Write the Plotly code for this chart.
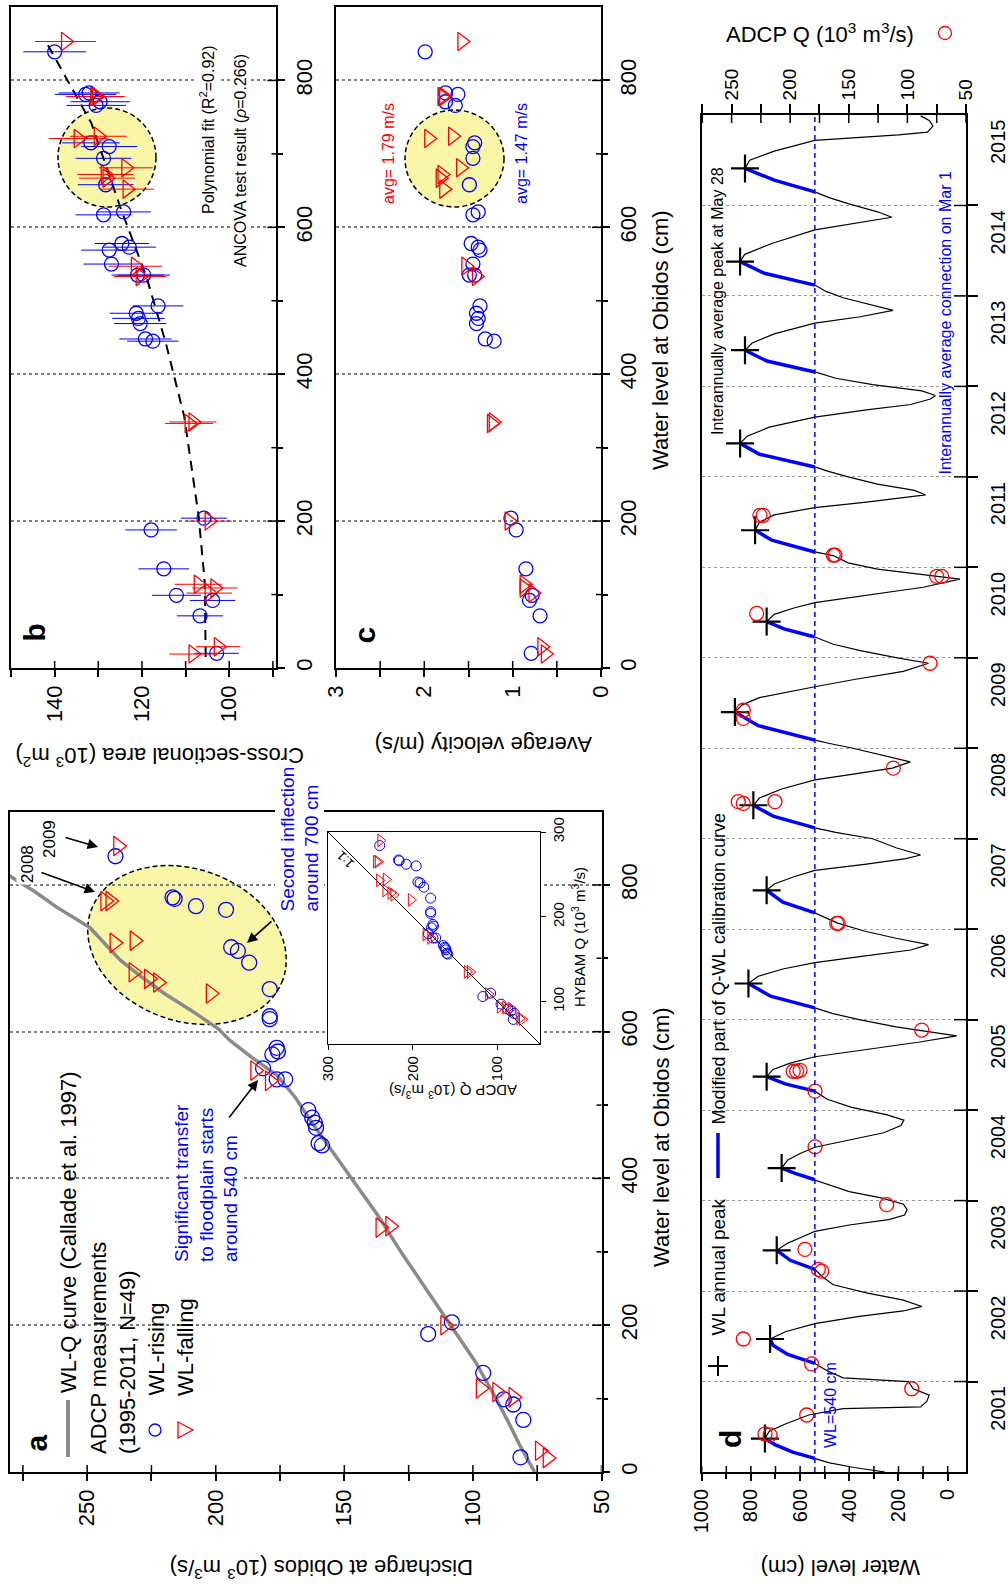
import math
import plotly.graph_objects as go

W, H = 1008, 1589
def fx(p): return p / W
def fy(p): return 1 - p / H

FONT = "Liberation Sans, Arial, Helvetica, sans-serif"
BLUE = "#0000ff"
RED = "#ff0000"

# ---------------- ADCP measurements (panels a, b, c and inset) ----------------
rise_wl = [839, 783, 781, 771, 766, 715, 710, 694, 658, 621, 617, 578, 573, 569, 550,
           535, 535, 493, 483, 476, 469, 448, 445, 204, 188, 135, 99, 92, 71, 20]
rise_q = [239.0, 216.8, 216.0, 207.7, 196.0, 194.0, 191.4, 187.0, 179.0, 179.0, 179.0, 176.3,
          175.8, 178.0, 181.6, 176.3, 173.0, 164.0, 162.5, 161.5, 161.0, 160.0, 158.7, 108.2,
          117.4, 96.0, 88.0, 84.3, 80.4, 81.5]
rise_area = [140.0, 132.1, 132.9, 129.6, 130.5, 131.7, 127.5, 128.8, 128.3, 124.2, 128.8, 124.6,
             122.9, 127.5, 127.0, 119.6, 121.0, 116.3, 121.3, 120.8, 120.4, 119.2, 117.5, 105.8,
             117.9, 115.0, 112.1, 103.8, 106.7, 102.9]
rise_area_err = [7.2, 7.0, 7.0, 6.8, 6.8, 6.6, 6.4, 6.4, 6.4, 6.2, 6.4, 6.2, 6.1, 6.4, 6.4,
                 6.0, 6.0, 5.8, 6.1, 6.0, 6.0, 6.0, 5.9, 5.3, 5.9, 5.8, 5.6, 5.2, 5.3, 5.1]
rise_vel = [1.99, 1.76, 1.62, 1.76, 1.65, 1.43, 1.45, 1.45, 1.49, 1.39, 1.45, 1.47, 1.39, 1.37,
            1.45, 1.49, 1.43, 1.37, 1.41, 1.39, 1.41, 1.31, 1.21, 1.02, 0.96, 0.85, 0.78, 0.81,
            0.69, 0.79]
rise_hybam = [284, 267, 266, 262, 260, 241, 240, 235, 222, 206, 204, 191, 189, 187, 180,
              175, 175, 166, 164, 163, 161, 157, 156, 110, 106, 97, 91, 89, 86, 79]

fall_wl = [853, 778, 778, 721, 724, 681, 672, 667, 652, 547, 533, 333, 335, 200, 114, 109, 102, 29, 19]
fall_q = [238.0, 243.0, 241.0, 239.4, 231.6, 232.0, 226.0, 222.5, 202.0, 184.7, 179.0, 136.0,
          132.2, 110.8, 97.0, 90.6, 84.3, 74.0, 71.0]
fall_area = [137.5, 130.8, 130.4, 134.6, 130.0, 123.7, 128.4, 128.0, 123.4, 121.5, 120.4, 109.2,
             108.3, 104.6, 107.1, 103.3, 104.6, 102.5, 108.3]
fall_area_err = [7.0, 6.6, 6.5, 6.7, 6.5, 6.2, 6.4, 6.4, 6.2, 6.1, 6.0, 5.5, 5.4, 5.2, 5.4,
                 5.2, 5.2, 5.1, 5.4]
fall_vel = [1.575, 1.80, 1.78, 1.95, 1.68, 1.59, 1.80, 1.82, 1.78, 1.53, 1.41, 1.24, 1.22, 1.04,
            0.87, 0.87, 0.77, 0.67, 0.63]
fall_hybam = [290, 265, 265, 243, 244, 231, 228, 226, 220, 179, 175, 135, 135, 109, 94, 93, 92, 80, 79]

# WL-Q curve (Callade et al. 1997)
curve_wl = [0, 38, 70, 100, 150, 207, 260, 300, 350, 397, 440, 478, 510, 540, 565, 588, 604,
            630, 652, 675, 697, 720, 742, 770, 790, 812, 840]
curve_q = [76, 82, 86.5, 91, 99, 110, 120, 128, 137, 146.6, 155, 163, 169, 176, 186, 194.5, 199,
           210, 220, 229, 237, 243, 249, 262, 270, 280, 292]

# polynomial fit of cross-sectional area
fit_wl = [15, 116, 206, 342, 444, 533, 628, 742, 855]
fit_area = [105.4, 105.6, 107.0, 110.3, 114.6, 119.0, 125.0, 131.6, 142.2]

one_to_one = [50, 300]

# ---------------- Panel d: water level time series ----------------
wl_year = [2001.00, 2001.05, 2001.10, 2001.15, 2001.22, 2001.30, 2001.37, 2001.45, 2001.53, 2001.63,
           2001.70, 2001.72, 2001.78, 2001.85, 2001.92, 2002.00, 2002.04, 2002.12, 2002.20, 2002.30,
           2002.40, 2002.47, 2002.55, 2002.64, 2002.72, 2002.78, 2002.83, 2002.90, 2002.98, 2003.07,
           2003.16, 2003.24, 2003.34, 2003.45, 2003.53, 2003.60, 2003.66, 2003.73, 2003.79, 2003.84,
           2003.90, 2003.96, 2004.03, 2004.10, 2004.17, 2004.23, 2004.30, 2004.36, 2004.45, 2004.52,
           2004.59, 2004.67, 2004.75, 2004.83, 2004.89, 2004.95, 2005.03, 2005.12, 2005.21, 2005.29,
           2005.37, 2005.45, 2005.52, 2005.59, 2005.67, 2005.75, 2005.82, 2005.86, 2005.92, 2006.00,
           2006.07, 2006.13, 2006.26, 2006.40, 2006.48, 2006.56, 2006.63, 2006.70, 2006.77, 2006.83,
           2006.90, 2006.98, 2007.07, 2007.18, 2007.30, 2007.43, 2007.50, 2007.58, 2007.65, 2007.72,
           2007.78, 2007.82, 2007.90, 2008.00, 2008.07, 2008.12, 2008.25, 2008.37, 2008.45, 2008.55,
           2008.65, 2008.72, 2008.78, 2008.85, 2008.92, 2009.00, 2009.05, 2009.09, 2009.25, 2009.40,
           2009.48, 2009.56, 2009.68, 2009.76, 2009.85, 2009.94, 2010.00, 2010.08, 2010.15, 2010.23,
           2010.32, 2010.40, 2010.48, 2010.55, 2010.61, 2010.70, 2010.78, 2010.87, 2010.92, 2010.98,
           2011.05, 2011.13, 2011.17, 2011.30, 2011.41, 2011.50, 2011.58, 2011.66, 2011.72, 2011.76,
           2011.80, 2011.85, 2011.92, 2012.00, 2012.06, 2012.11, 2012.25, 2012.37, 2012.45, 2012.55,
           2012.66, 2012.74, 2012.80, 2012.86, 2012.90, 2012.95, 2013.02, 2013.09, 2013.16, 2013.28,
           2013.40, 2013.48, 2013.58, 2013.70, 2013.77, 2013.84, 2013.90, 2013.98, 2014.05, 2014.12,
           2014.25, 2014.38, 2014.46, 2014.58, 2014.73, 2014.80, 2014.87, 2014.93, 2015.02, 2015.09,
           2015.15, 2015.28, 2015.41, 2015.50, 2015.60, 2015.72, 2015.78, 2015.81, 2015.88, 2015.94,
           2015.99]
wl_cm = [255, 380, 480, 540, 630, 700, 743, 725, 660, 565,
         425, 110, 85, 75, 140, 160, 425, 490, 540, 650,
         710, 722, 660, 540, 360, 180, 105, 180, 330, 465,
         510, 540, 640, 695, 650, 590, 540, 400, 240, 175,
         165, 180, 270, 400, 480, 540, 620, 675, 650, 600,
         540, 400, 260, 190, 178, 250, 390, 490, 540, 660,
         736, 710, 640, 540, 330, 120, -37, 60, 210, 360,
         470, 540, 720, 810, 770, 670, 540, 350, 150, 78,
         210, 340, 450, 540, 670, 736, 705, 625, 540, 330,
         170, 110, 210, 305, 455, 540, 710, 790, 765, 675,
         540, 370, 225, 152, 255, 385, 475, 540, 770, 865,
         835, 765, 540, 380, 180, 78, 205, 355, 465, 540,
         665, 736, 705, 625, 540, 300, 100, -50, 100, 285,
         405, 465, 540, 715, 783, 765, 705, 540, 330, 200,
         90, 135, 285, 405, 485, 540, 765, 844, 815, 725,
         540, 330, 150, 70, 50, 105, 305, 455, 540, 735,
         824, 795, 705, 540, 355, 222, 305, 425, 495, 540,
         745, 844, 825, 715, 540, 385, 227, 285, 405, 485,
         540, 705, 824, 805, 705, 540, 200, 82, 60, 75,
         110]

peak_year = [2001.37, 2002.47, 2003.45, 2004.36, 2005.37, 2006.40, 2007.43, 2008.37,
             2009.40, 2010.40, 2011.41, 2012.37, 2013.40, 2014.38, 2015.41]
peak_wl = [743, 722, 695, 675, 736, 810, 736, 790, 865, 736, 783, 844, 824, 844, 824]

adcp_year = [2001.42, 2001.41, 2001.63, 2001.92, 2002.47, 2002.195, 2003.46, 2003.24, 2003.22,
             2003.955, 2004.594, 2005.43, 2005.43, 2005.44, 2005.21, 2005.885, 2007.065, 2007.065,
             2008.41, 2008.39, 2008.41, 2008.78, 2009.42, 2009.33, 2009.94, 2010.49, 2010.90,
             2010.90, 2011.135, 2011.135, 2011.575, 2011.575]
adcp_q = [221.5, 217.2, 185.9, 96.3, 240.0, 181.7, 187.4, 176.0, 173.1,
          117.7, 178.8, 197.4, 194.5, 191.6, 178.8, 87.8, 160.3, 159.0,
          244.3, 240.0, 213.0, 112.0, 240.0, 240.0, 80.7, 228.6, 75.0,
          70.7, 163.2, 161.8, 225.8, 223.0]

connection_wl = 540
years = list(range(2001, 2016))

# tick positions
q_major = [50, 100, 150, 200, 250]
q_minor = [75, 125, 175, 225, 275]
wl_major = [0, 200, 400, 600, 800]
wl_minor = [100, 300, 500, 700]
area_major = [100, 120, 140]
area_minor = [90, 110, 130, 150]
vel_major = [0, 1, 2, 3]
vel_minor = [0.5, 1.5, 2.5]
dwl_major = [0, 200, 400, 600, 800, 1000]
dwl_minor = [100, 300, 500, 700, 900]

# ---------------- figure ----------------
fig = go.Figure()

def mk(symbol, color, size, width=1.3):
    return dict(symbol=symbol, size=size, color=color, line=dict(color=color, width=width))

# panel a
fig.add_trace(go.Scatter(x=curve_q, y=curve_wl, mode="lines", line=dict(color="#8a8a8a", width=3.5),
                         xaxis="x", yaxis="y"))
fig.add_trace(go.Scatter(x=rise_q, y=rise_wl, mode="markers", marker=mk("circle-open", BLUE, 15),
                         xaxis="x", yaxis="y"))
fig.add_trace(go.Scatter(x=fall_q, y=fall_wl, mode="markers", marker=mk("triangle-right-open", RED, 17),
                         xaxis="x", yaxis="y"))

# panel b
fig.add_trace(go.Scatter(x=fit_area, y=fit_wl, mode="lines",
                         line=dict(color="black", width=2, dash="10px,7px"), xaxis="x2", yaxis="y2"))
fig.add_trace(go.Scatter(x=rise_area, y=rise_wl, mode="markers", marker=mk("circle-open", BLUE, 14),
                         error_x=dict(type="data", array=rise_area_err, color=BLUE, thickness=1, width=0),
                         xaxis="x2", yaxis="y2"))
fig.add_trace(go.Scatter(x=fall_area, y=fall_wl, mode="markers", marker=mk("triangle-right-open", RED, 16),
                         error_x=dict(type="data", array=fall_area_err, color=RED, thickness=1, width=0),
                         xaxis="x2", yaxis="y2"))

# panel c
fig.add_trace(go.Scatter(x=rise_vel, y=rise_wl, mode="markers", marker=mk("circle-open", BLUE, 14),
                         xaxis="x3", yaxis="y3"))
fig.add_trace(go.Scatter(x=fall_vel, y=fall_wl, mode="markers", marker=mk("triangle-right-open", RED, 16),
                         xaxis="x3", yaxis="y3"))

# inset
fig.add_trace(go.Scatter(x=one_to_one, y=one_to_one, mode="lines", line=dict(color="black", width=1),
                         xaxis="x4", yaxis="y4"))
fig.add_trace(go.Scatter(x=rise_q, y=rise_hybam, mode="markers", marker=mk("circle-open", BLUE, 10, 1),
                         xaxis="x4", yaxis="y4"))
fig.add_trace(go.Scatter(x=fall_q, y=fall_hybam, mode="markers", marker=mk("triangle-right-open", RED, 11, 1),
                         xaxis="x4", yaxis="y4"))

# panel d
fig.add_trace(go.Scatter(x=wl_cm, y=wl_year, mode="lines", line=dict(color="black", width=1.2),
                         xaxis="x5", yaxis="y5"))
seg_x, seg_y = [], []
for p in peak_year:
    i = wl_year.index(p)
    j = i
    while j > 0 and wl_cm[j] > connection_wl:
        j -= 1
    seg_x += wl_cm[j:i + 1] + [None]
    seg_y += wl_year[j:i + 1] + [None]
fig.add_trace(go.Scatter(x=seg_x, y=seg_y, mode="lines", line=dict(color=BLUE, width=3.5),
                         connectgaps=False, xaxis="x5", yaxis="y5"))
fig.add_trace(go.Scatter(x=peak_wl, y=peak_year, mode="markers",
                         marker=dict(symbol="cross-thin-open", size=20, color="black",
                                     line=dict(color="black", width=2.2)),
                         xaxis="x5", yaxis="y5"))
fig.add_trace(go.Scatter(x=adcp_q, y=adcp_year, mode="markers", marker=mk("circle-open", RED, 14),
                         xaxis="x6", yaxis="y5"))

# ---------------- axes ----------------
def ax(**kw):
    d = dict(showline=True, linecolor="black", linewidth=1.5, mirror=True, ticks="outside",
             ticklen=7, tickwidth=1.5, tickcolor="black", showgrid=False, zeroline=False,
             tickangle=-90, tickfont=dict(size=22, family=FONT, color="black"), fixedrange=True,
             automargin=False)
    d.update(kw)
    return d

def minor(vals, length=5, **kw):
    d = dict(tickvals=vals, ticks="outside", ticklen=length, tickwidth=1.5, tickcolor="black",
             showgrid=False)
    d.update(kw)
    return d

grid = dict(showgrid=True, gridcolor="#7f7f7f", griddash="dot", gridwidth=1.5)

fig.update_layout(
    xaxis=ax(domain=[fx(10), fx(601.5)], range=[280, 50], anchor="y",
             tickvals=q_major, minor=minor(q_minor, 7)),
    yaxis=ax(domain=[fy(1472), fy(811.5)], range=[0, 900], anchor="x", side="right",
             tickvals=wl_major, minor=minor(wl_minor), **grid),
    xaxis2=ax(domain=[fx(11), fx(276.4)], range=[150, 89.2], anchor="y2",
              tickvals=area_major, minor=minor(area_minor, 7)),
    yaxis2=ax(domain=[fy(668), fy(7)], range=[0, 900], anchor="x2", side="right",
              tickvals=wl_major, minor=minor(wl_minor), **grid),
    xaxis3=ax(domain=[fx(336), fx(601)], range=[3, 0], anchor="y3",
              tickvals=vel_major, minor=minor(vel_minor, 7)),
    yaxis3=ax(domain=[fy(668), fy(7)], range=[0, 900], anchor="x3", side="right",
              tickvals=wl_major, minor=minor(wl_minor), **grid),
    xaxis4=ax(domain=[fx(328), fx(540)], range=[300, 50], anchor="y4", tickvals=[100, 200, 300],
              ticklen=5, tickwidth=1, linewidth=1.2, tickfont=dict(size=15, family=FONT, color="black")),
    yaxis4=ax(domain=[fy(1044), fy(832)], range=[50, 300], anchor="x4", side="right",
              tickvals=[100, 200, 300], ticklen=5, tickwidth=1, linewidth=1.2,
              tickfont=dict(size=15, family=FONT, color="black")),
    xaxis5=ax(domain=[fx(701.7), fx(966)], range=[1000, -74.5], anchor="y5",
              tickvals=dwl_major, minor=minor(dwl_minor, 5),
              tickfont=dict(size=20, family=FONT, color="black")),
    xaxis6=ax(domain=[fx(701.7), fx(966)], range=[275.5, 50], anchor="y5", overlaying="x5",
              side="top", mirror=False, ticklen=9, tickvals=q_major, minor=minor(q_minor, 9),
              tickfont=dict(size=19, family=FONT, color="black")),
    yaxis5=ax(domain=[fy(1472), fy(115)], range=[2001, 2016], anchor="x5", side="right",
              tickvals=[y + 0.67 for y in years], ticktext=[str(y) for y in years], ticks="",
              ticklabelstandoff=13, tickfont=dict(size=20, family=FONT, color="black"),
              minor=minor(list(range(2002, 2016)), 10, showgrid=True, gridcolor="#9a9a9a",
                          griddash="dot", gridwidth=1)),
)

# ---------------- shapes ----------------
shapes = []

def ellipse_path(cx, cy, a, b, deg, n=72):
    t = math.radians(deg)
    pts = []
    for k in range(n):
        u = 2 * math.pi * k / n
        px = cx + a * math.cos(u) * math.cos(t) - b * math.sin(u) * math.sin(t)
        py = cy + a * math.cos(u) * math.sin(t) + b * math.sin(u) * math.cos(t)
        pts.append(f"{fx(px):.5f},{fy(py):.5f}")
    return "M" + " L".join(pts) + " Z"

yellow = "rgba(250,246,168,1)"
ell_line = dict(color="black", width=1.5, dash="5px,3px")
shapes.append(dict(type="path", path=ellipse_path(187, 945, 102, 76, 20), xref="paper", yref="paper",
                   fillcolor=yellow, line=ell_line, layer="below"))
shapes.append(dict(type="circle", xref="paper", yref="paper", x0=fx(58), x1=fx(156), y0=fy(207), y1=fy(108),
                   fillcolor=yellow, line=ell_line, layer="below"))
shapes.append(dict(type="circle", xref="paper", yref="paper", x0=fx(405), x1=fx(504), y0=fy(207), y1=fy(110),
                   fillcolor=yellow, line=ell_line, layer="below"))

# WL = 540 cm line in panel d
shapes.append(dict(type="line", xref="x5", yref="paper", x0=connection_wl, x1=connection_wl,
                   y0=fy(1472), y1=fy(115), line=dict(color=BLUE, width=1.5, dash="5px,4px")))

def inner_x(xref, vals, ypx, d, L):
    for v in vals:
        shapes.append(dict(type="line", xref=xref, yref="paper", x0=v, x1=v, y0=fy(ypx), y1=fy(ypx + d * L),
                           line=dict(color="black", width=1.5)))

def inner_y(yref, vals, xpx, d, L):
    for v in vals:
        shapes.append(dict(type="line", xref="paper", yref=yref, y0=v, y1=v, x0=fx(xpx), x1=fx(xpx + d * L),
                           line=dict(color="black", width=1.5)))

inner_x("x", q_major + q_minor, 1472, -1, 7)
inner_y("y", wl_major[1:], 601.5, -1, 9)
inner_y("y", wl_minor, 601.5, -1, 5)
inner_x("x2", area_major + area_minor[:-1], 668, -1, 7)
inner_y("y2", wl_major[1:], 276.4, -1, 9)
inner_y("y2", wl_minor, 276.4, -1, 5)
inner_x("x3", vel_major[1:-1] + vel_minor, 668, -1, 7)
inner_y("y3", wl_major[1:], 601, -1, 9)
inner_y("y3", wl_minor, 601, -1, 5)
inner_x("x5", dwl_major + dwl_minor, 1472, -1, 6)
inner_x("x6", q_major + q_minor, 115, 1, 8)
inner_y("y5", list(range(2002, 2016)), 966, -1, 12)

def pline(x0, y0, x1, y1, color, width):
    shapes.append(dict(type="line", xref="paper", yref="paper", x0=fx(x0), y0=fy(y0), x1=fx(x1), y1=fy(y1),
                       line=dict(color=color, width=width)))

# legend symbols, panel a
pline(68, 1457, 68, 1400, "#8a8a8a", 4)
shapes.append(dict(type="circle", xref="paper", yref="paper", x0=fx(149), x1=fx(161), y0=fy(1436), y1=fy(1424),
                   line=dict(color=BLUE, width=1.3)))
shapes.append(dict(type="path", xref="paper", yref="paper",
                   path=f"M{fx(178):.5f},{fy(1422):.5f} L{fx(178):.5f},{fy(1438):.5f} L{fx(193):.5f},{fy(1430):.5f} Z",
                   line=dict(color=RED, width=1.3)))
# legend symbols, panel d
pline(708, 1366, 728, 1366, "black", 2)
pline(718, 1356, 718, 1376, "black", 2)
pline(718, 1133, 718, 1178, BLUE, 3.5)
shapes.append(dict(type="circle", xref="paper", yref="paper", x0=fx(938.5), x1=fx(951.5), y0=fy(39.5), y1=fy(26.5),
                   line=dict(color=RED, width=1.3)))

fig.update_layout(shapes=shapes)

# ---------------- annotations ----------------
ann = []

def txt(x, y, s, size=22, angle=-90, color="black", xanchor="center", yanchor="middle",
        bg=None, align="center"):
    a = dict(x=fx(x), y=fy(y), xref="paper", yref="paper", text=s, showarrow=False, textangle=angle,
             font=dict(size=size, color=color, family=FONT), xanchor=xanchor, yanchor=yanchor, align=align)
    if bg:
        a["bgcolor"] = bg
    ann.append(a)

def arrow(hx, hy, tx, ty):
    ann.append(dict(x=fx(hx), y=fy(hy), xref="paper", yref="paper", ax=tx - hx, ay=ty - hy,
                    axref="pixel", ayref="pixel", text="", showarrow=True, arrowhead=2,
                    arrowsize=1.3, arrowwidth=1.6, arrowcolor="black"))

# panel labels
txt(36.7, 1442.7, "<b>a</b>", size=30)
txt(34.5, 633, "<b>b</b>", size=30)
txt(363.6, 635, "<b>c</b>", size=30)
txt(730, 1439, "<b>d</b>", size=30)

# axis titles
txt(322, 1569, "Discharge at Obidos (10<sup>3</sup> m<sup>3</sup>/s)", angle=180)
txt(661, 1137, "Water level at Obidos (cm)")
txt(661, 340, "Water level at Obidos (cm)")
txt(160, 757, "Cross-sectional area (10<sup>3</sup> m<sup>2</sup>)", angle=180)
txt(484, 745, "Average velocity (m/s)", angle=180)
txt(841, 1568, "Water level (cm)", angle=180)
txt(820, 33, "ADCP Q (10<sup>3</sup> m<sup>3</sup>/s)", angle=0)
txt(578, 937, "HYBAM Q (10<sup>3</sup> m<sup>3</sup>/s)", size=15)
txt(453, 1092, "ADCP Q (10<sup>3</sup> m<sup>3</sup>/s)", size=15, angle=180)
txt(345, 860, "1:1", size=13, angle=-135)

# panel a legend
txt(68, 1395, "WL-Q curve (Callade et al. 1997)", yanchor="bottom")
txt(98, 1456, "ADCP measurements", yanchor="bottom")
txt(127, 1456, "(1995-2011, N=49)", yanchor="bottom")
txt(156, 1398, "WL-rising", yanchor="bottom")
txt(185, 1398, "WL-falling", yanchor="bottom")

# panel a notes
txt(206, 1264, "Significant transfer<br>to floodplain starts<br>around 540 cm", size=19, color=BLUE,
    yanchor="bottom", align="left", bg="white")
arrow(258, 1080, 228, 1119)
txt(299, 914, "Second inflection<br>around 700 cm", size=19, color=BLUE, yanchor="bottom",
    align="left", bg="white")
arrow(247, 943, 273, 920)
txt(49, 839, "2009", size=17, bg="white")
txt(27, 864, "2008", size=17, bg="white")
arrow(98, 847, 64, 837)
arrow(95, 892, 40, 872)

# panel b / c notes
txt(207, 130, "Polynomial fit (R<sup>2</sup>=0.92)", size=16, bg="white")
txt(240, 161, "ANCOVA test result (<i>\u03c1</i>=0.266)", size=16, bg="white")
txt(389, 154, "avg= 1.79 m/s", size=16, color=RED)
txt(522, 154, "avg= 1.47 m/s", size=16, color=BLUE)

# panel d notes
txt(718, 1338, "WL annual peak", size=19, yanchor="bottom")
txt(718, 1127, "Modified part of Q-WL calibration curve", size=18, yanchor="bottom")
txt(830, 1450, "WL=540 cm", size=16, color=BLUE, yanchor="bottom")
txt(717, 437, "Interannually average peak at May 28", size=16, yanchor="bottom")
txt(945, 477, "Interannually average connection on Mar 1", size=16, color=BLUE, yanchor="bottom")

fig.update_layout(
    annotations=ann,
    width=W, height=H, autosize=False,
    margin=dict(l=0, r=0, t=0, b=0, pad=0),
    paper_bgcolor="white", plot_bgcolor="white",
    showlegend=False,
    font=dict(family=FONT, color="black"),
)

fig.write_html("out.html", config={"displayModeBar": False})
